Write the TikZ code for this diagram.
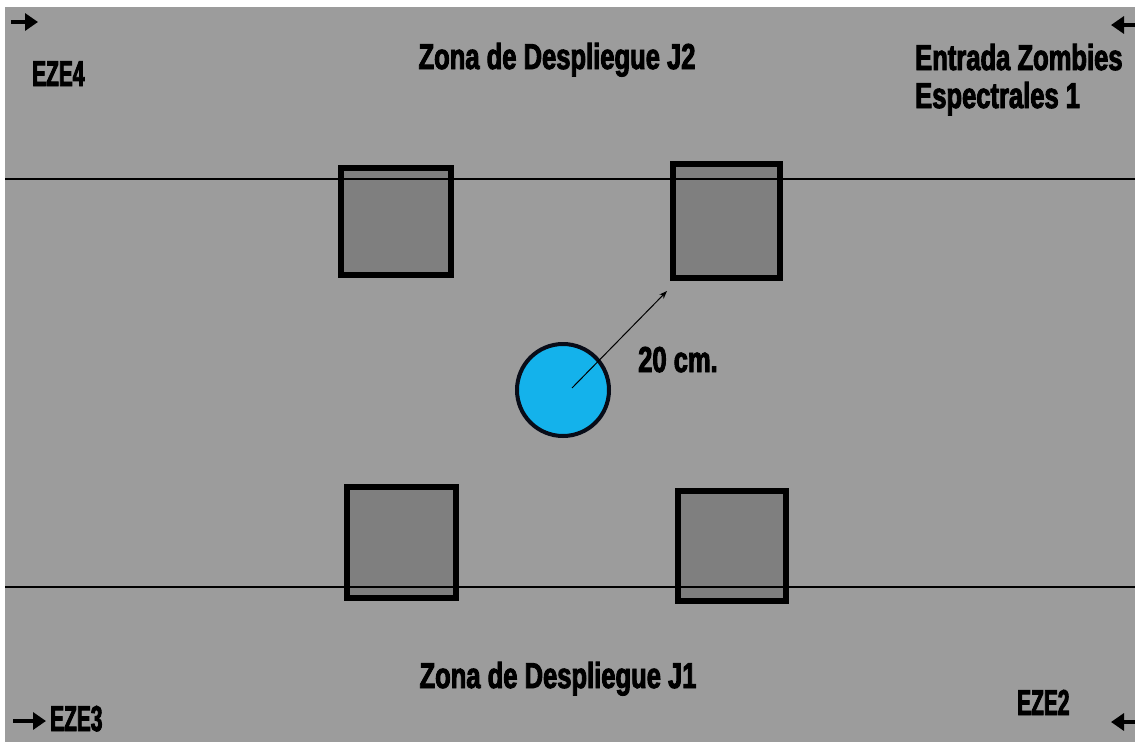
\documentclass[tikz,border=0pt]{standalone}
\usepackage{fontspec}
\usetikzlibrary{arrows.meta}
\newfontfamily\imp[FakeStretch=0.71,FakeBold=2.5]{Liberation Sans Bold}
\newfontfamily\impn[FakeStretch=0.58,FakeBold=2.5]{Liberation Sans Bold}
\definecolor{bg}{RGB}{156,156,156}
\definecolor{sqfill}{RGB}{127,127,127}
\definecolor{cyanfill}{RGB}{20,178,235}
\definecolor{edge}{RGB}{8,12,24}
\tikzset{
  sq/.style={draw=black, line width=6pt, fill=sqfill, rectangle, inner sep=0pt},
  zoneline/.style={draw=black, line width=2pt},
  lbl/.style={font=\imp\fontsize{36}{40}\selectfont, text=black, inner sep=0pt},
  lbln/.style={font=\impn\fontsize{36}{40}\selectfont, text=black, inner sep=0pt},
  bigarrow/.style={line width=4pt, -{Triangle[length=13pt,width=17pt]}},
  radius arrow/.style={line width=1pt, -{Stealth[length=8pt,width=6pt]}}
}
\begin{document}
\begin{tikzpicture}[x=1pt,y=-1pt]
\useasboundingbox (0,0) rectangle (1135,742);
\fill[white] (0,0) rectangle (1135,742);
\fill[bg] (5,7) rectangle (1135,742);
% squares
\node[sq, minimum width=110pt, minimum height=107pt] (s1) at (396,221.5) {};
\node[sq, minimum width=107pt, minimum height=114pt] (s2) at (726.5,221) {};
\node[sq, minimum width=109pt, minimum height=111pt] (s3) at (401.5,542.5) {};
\node[sq, minimum width=108pt, minimum height=110pt] (s4) at (732,546) {};
% zone lines
\coordinate (l1a) at (5,178.5);
\coordinate (l1b) at (1135,178.5);
\coordinate (l2a) at (5,587);
\coordinate (l2b) at (1135,587);
\draw[zoneline] (l1a) -- (l1b);
\draw[zoneline] (l2a) -- (l2b);
% circle
\node[circle, draw=edge, line width=4pt, fill=cyanfill, minimum size=92pt, inner sep=0pt] (c) at (563,390) {};
\coordinate (r0) at (572,388);
\coordinate (r1) at (667,291);
\draw[radius arrow] (r0) -- (r1);
\node[lbl, anchor=base west] (cm) at (638,372) {20 cm.};
% labels
\node[lbl, anchor=base] (j2) at (557,69) {Zona de Despliegue J2};
\node[lbl, anchor=base] (j1) at (558,688) {Zona de Despliegue J1};
\node[lbln, anchor=base west] (e4) at (32,86) {EZE4};
\node[lbl, anchor=base west] (ez1) at (915,70) {Entrada Zombies};
\node[lbl, anchor=base west] (ez1b) at (915,108) {Espectrales 1};
\node[lbln, anchor=base west] (e3) at (50,731) {EZE3};
\node[lbln, anchor=base west] (e2) at (1017,715) {EZE2};
% entry arrows
\coordinate (a4s) at (11,22); \coordinate (a4e) at (38,22);
\coordinate (a1s) at (1135,25); \coordinate (a1e) at (1111,25);
\coordinate (a3s) at (13,721); \coordinate (a3e) at (46,721);
\coordinate (a2s) at (1135,722); \coordinate (a2e) at (1111,722);
\draw[bigarrow] (a4s) -- (a4e);
\draw[bigarrow] (a1s) -- (a1e);
\draw[bigarrow] (a3s) -- (a3e);
\draw[bigarrow] (a2s) -- (a2e);
\end{tikzpicture}
\end{document}
